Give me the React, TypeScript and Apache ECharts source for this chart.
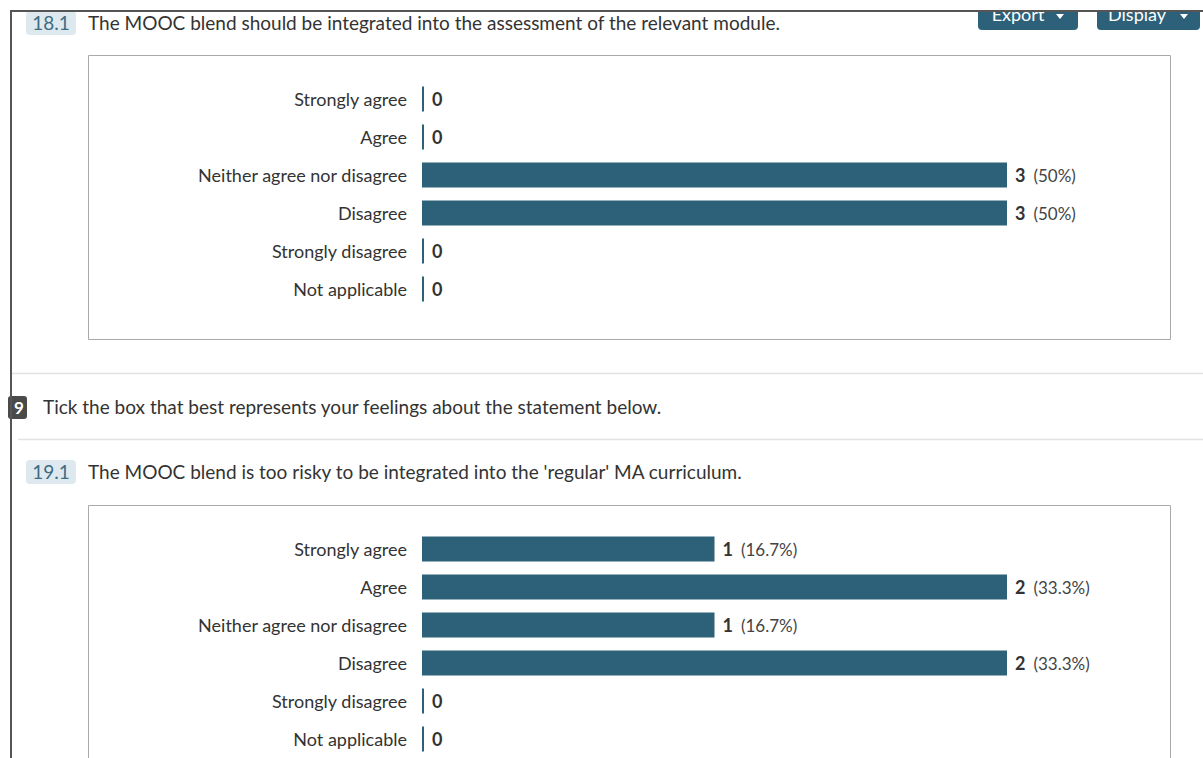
import React, { useEffect, useRef } from "react";
import * as echarts from "echarts";

const categories = [
  "Strongly agree",
  "Agree",
  "Neither agree nor disagree",
  "Disagree",
  "Strongly disagree",
  "Not applicable",
];
const q181Values = [0, 0, 3, 3, 0, 0];
const q191Values = [1, 2, 1, 2, 0, 0];
const q181Title = "The MOOC blend should be integrated into the assessment of the relevant module.";
const q191Title = "The MOOC blend is too risky to be integrated into the 'regular' MA curriculum.";
const q19Prompt = "Tick the box that best represents your feelings about the statement below.";

const BAR = "#2d6079";
const FONT = "Lato, 'Open Sans', sans-serif";

function pct(v: number, total: number) {
  const p = (v / total) * 100;
  const r = Math.round(p * 10) / 10;
  return (Number.isInteger(r) ? r.toFixed(0) : r.toFixed(1)) + "%";
}

function barSeries(values: number[], idx: number) {
  const total = values.reduce((a, b) => a + b, 0);
  return {
    type: "bar",
    xAxisIndex: idx,
    yAxisIndex: idx,
    data: values,
    barWidth: 25,
    barMinHeight: 2,
    itemStyle: { color: BAR },
    label: {
      show: true,
      position: "right",
      distance: 8,
      fontFamily: FONT,
      formatter: (p: any) =>
        p.value === 0 ? "{b|0}" : `{b|${p.value}}{n|(${pct(p.value, total)})}`,
      rich: {
        b: { fontWeight: "bold", fontSize: 18, color: "#333", fontFamily: FONT, padding: [0, 8, 0, 0] },
        n: { fontSize: 17, color: "#444", fontFamily: FONT },
      },
    },
  };
}

export default function App() {
  const ref = useRef<HTMLDivElement>(null);
  useEffect(() => {
    if (!ref.current) return;
    const chart = echarts.init(ref.current, undefined, { renderer: "svg" });
    const yAxisBase = {
      type: "category",
      data: categories,
      inverse: true,
      axisLine: { show: false },
      axisTick: { show: false },
      axisLabel: { margin: 15, fontSize: 18, color: "#333", fontFamily: FONT },
    };
    const xAxisBase = {
      type: "value",
      min: 0,
      show: false,
      splitLine: { show: false },
    };
    chart.setOption({
      animation: false,
      grid: [
        { left: 422, top: 80, width: 585, height: 228 },
        { left: 422, top: 530, width: 585, height: 228 },
      ],
      xAxis: [
        { ...xAxisBase, gridIndex: 0, max: Math.max(...q181Values) },
        { ...xAxisBase, gridIndex: 1, max: Math.max(...q191Values) },
      ],
      yAxis: [
        { ...yAxisBase, gridIndex: 0 },
        { ...yAxisBase, gridIndex: 1 },
      ],
      series: [barSeries(q181Values, 0), barSeries(q191Values, 1)],
      graphic: [
        // buttons
        { type: "rect", shape: { x: 978, y: 0, width: 100, height: 30, r: 4 }, style: { fill: BAR }, z: 1 },
        { type: "rect", shape: { x: 1097, y: 0, width: 103, height: 30, r: 4 }, style: { fill: BAR }, z: 1 },
        { type: "text", x: 1018, y: 23, style: { text: "Export", fill: "#fff", font: `18px ${FONT}`, textAlign: "center", textVerticalAlign: "bottom" }, z: 2 },
        { type: "text", x: 1137, y: 23, style: { text: "Display", fill: "#fff", font: `18px ${FONT}`, textAlign: "center", textVerticalAlign: "bottom" }, z: 2 },
        { type: "polygon", shape: { points: [[1056, 14], [1064, 14], [1060, 19]] }, style: { fill: "#fff" }, z: 2 },
        { type: "polygon", shape: { points: [[1180, 14], [1188, 14], [1184, 19]] }, style: { fill: "#fff" }, z: 2 },
        { type: "rect", shape: { x: 900, y: 0, width: 303, height: 11 }, style: { fill: "#fff" }, z: 3 },
        // frame
        { type: "line", shape: { x1: 10, y1: 11, x2: 1203, y2: 11 }, style: { stroke: "#555", lineWidth: 2 }, z: 4 },
        // 18.1 header
        { type: "rect", shape: { x: 26, y: 11, width: 50, height: 24, r: 4 }, style: { fill: "#dde9ee" } },
        { type: "text", x: 51, y: 22, style: { text: "18.1", fill: "#3d6c83", font: `19px ${FONT}`, textAlign: "center", textVerticalAlign: "middle" } },
        { type: "text", x: 88, y: 22, style: { text: q181Title, fill: "#333", font: `19px ${FONT}`, textVerticalAlign: "middle" } },
        { type: "rect", shape: { x: 88.5, y: 55.5, width: 1082, height: 284 }, style: { fill: "none", stroke: "#aaa", lineWidth: 1 } },
        // separators & Q19 prompt
        { type: "line", shape: { x1: 12, y1: 373.5, x2: 1203, y2: 373.5 }, style: { stroke: "#e2e2e2", lineWidth: 1.5 } },
        { type: "rect", shape: { x: 8, y: 396, width: 19, height: 23, r: 3 }, style: { fill: "#4a4a48" } },
        { type: "text", x: 19, y: 407, style: { text: "9", fill: "#fff", font: `bold 17px ${FONT}`, textAlign: "center", textVerticalAlign: "middle" } },
        { type: "text", x: 43, y: 406, style: { text: q19Prompt, fill: "#333", font: `19px ${FONT}`, textVerticalAlign: "middle" } },
        { type: "line", shape: { x1: 18, y1: 439.5, x2: 1203, y2: 439.5 }, style: { stroke: "#e2e2e2", lineWidth: 1.5 } },
        // 19.1 header
        { type: "rect", shape: { x: 26, y: 460, width: 50, height: 24, r: 4 }, style: { fill: "#dde9ee" } },
        { type: "text", x: 51, y: 471, style: { text: "19.1", fill: "#3d6c83", font: `19px ${FONT}`, textAlign: "center", textVerticalAlign: "middle" } },
        { type: "text", x: 88, y: 471, style: { text: q191Title, fill: "#333", font: `19px ${FONT}`, textVerticalAlign: "middle" } },
        { type: "rect", shape: { x: 88.5, y: 505.5, width: 1082, height: 300 }, style: { fill: "none", stroke: "#aaa", lineWidth: 1 } },
        // left frame line
        { type: "line", shape: { x1: 11, y1: 11, x2: 11, y2: 758 }, style: { stroke: "#555", lineWidth: 2 }, z: 4 },
      ],
    });
    return () => chart.dispose();
  }, []);
  return (
    <div
      ref={ref}
      style={{ position: "absolute", left: 0, top: 0, width: 1203, height: 758, background: "#fff" }}
    />
  );
}
